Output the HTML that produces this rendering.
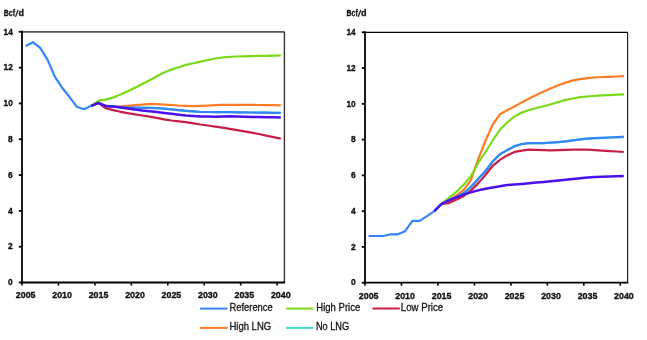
<!DOCTYPE html>
<html><head><meta charset="utf-8"><style>
html,body{margin:0;padding:0;background:#fff;width:647px;height:340px;overflow:hidden}
svg{display:block;will-change:transform}
.ax{font-family:"Liberation Sans",sans-serif;font-weight:bold;font-size:9.7px;fill:#111;stroke:#111;stroke-width:0.35px}
.ay{font-family:"Liberation Sans",sans-serif;font-weight:bold;font-size:9.6px;fill:#111;stroke:#111;stroke-width:0.35px}
.bcf{font-family:"Liberation Sans",sans-serif;font-weight:bold;font-size:9px;fill:#111;stroke:#111;stroke-width:0.3px}
.leg{font-family:"Liberation Sans",sans-serif;font-size:10.4px;fill:#111;stroke:#111;stroke-width:0.28px}
</style></head><body>
<svg width="647" height="340" viewBox="0 0 647 340">
<line x1="22.0" y1="31.8" x2="284.4" y2="31.8" stroke="#555" stroke-width="1.8"/>
<line x1="284.4" y1="31.8" x2="284.4" y2="282.5" stroke="#333" stroke-width="1.4"/>
<polyline points="25.6,46.1 32.9,42.2 40.2,47.9 47.5,59.6 54.8,76.6 62.1,87.7 69.4,96.8 76.7,106.7 84.0,109.2 91.2,105.8 98.5,102.9" fill="none" stroke="#3486f8" stroke-width="2.2" stroke-linejoin="round"/>
<polyline points="91.2,105.8 98.5,102.9 105.8,106.1 113.1,106.5 120.4,107.1 127.7,107.4 135.0,107.5 142.3,107.9 149.6,107.9 156.8,108.2 164.1,108.7 171.4,109.3 178.7,110.1 186.0,110.8 193.3,111.4 200.6,112.0 207.9,112.0 215.2,112.1 222.4,112.1 229.7,112.2 237.0,112.3 244.3,112.4 251.6,112.5 258.9,112.6 266.2,112.7 273.5,112.8 280.8,112.9" fill="none" stroke="#45d6cc" stroke-width="2.2" stroke-linejoin="round" stroke-linecap="butt"/>
<polyline points="91.2,105.8 98.5,102.9 105.8,106.1 113.1,106.5 120.4,106.4 127.7,105.8 135.0,105.2 142.3,104.6 149.6,103.8 156.8,104.2 164.1,104.6 171.4,105.0 178.7,105.5 186.0,105.8 193.3,106.1 200.6,105.9 207.9,105.6 215.2,105.2 222.4,104.9 229.7,104.8 237.0,104.8 244.3,104.9 251.6,104.9 258.9,105.0 266.2,105.1 273.5,105.2 280.8,105.3" fill="none" stroke="#fd7d26" stroke-width="2.2" stroke-linejoin="round" stroke-linecap="butt"/>
<polyline points="91.2,105.8 98.5,102.9 105.8,106.1 113.1,106.5 120.4,107.1 127.7,107.4 135.0,107.5 142.3,107.9 149.6,107.9 156.8,108.2 164.1,108.7 171.4,109.3 178.7,110.1 186.0,110.8 193.3,111.4 200.6,112.0 207.9,112.0 215.2,112.1 222.4,112.1 229.7,112.2 237.0,112.3 244.3,112.4 251.6,112.5 258.9,112.6 266.2,112.7 273.5,112.8 280.8,112.9" fill="none" stroke="#3486f8" stroke-width="2.2" stroke-linejoin="round" stroke-linecap="butt"/>
<polyline points="91.2,105.8 98.5,102.9 105.8,108.3 113.1,110.1 120.4,111.8 127.7,113.2 135.0,114.4 142.3,115.5 149.6,116.6 156.8,117.9 164.1,119.3 171.4,120.5 178.7,121.4 186.0,122.2 193.3,123.3 200.6,124.5 207.9,125.5 215.2,126.6 222.4,127.6 229.7,128.8 237.0,130.1 244.3,131.3 251.6,132.6 258.9,134.0 266.2,135.6 273.5,137.1 280.8,138.6" fill="none" stroke="#c81e45" stroke-width="2.2" stroke-linejoin="round" stroke-linecap="butt"/>
<polyline points="91.2,105.8 98.5,100.7 105.8,99.6 113.1,97.6 120.4,94.6 127.7,91.3 135.0,87.7 142.3,84.0 149.6,80.3 156.8,76.2 164.1,72.6 171.4,69.6 178.7,67.2 186.0,64.9 193.3,63.3 200.6,61.6 207.9,60.0 215.2,58.5 222.4,57.5 229.7,56.8 237.0,56.5 244.3,56.3 251.6,56.1 258.9,55.9 266.2,55.8 273.5,55.6 280.8,55.4" fill="none" stroke="#7ad918" stroke-width="2.2" stroke-linejoin="round" stroke-linecap="butt"/>
<polyline points="91.2,105.8 98.5,102.9 105.8,106.1 113.1,106.6 120.4,107.4 127.7,108.4 135.0,109.6 142.3,110.6 149.6,111.3 156.8,112.1 164.1,113.0 171.4,113.8 178.7,114.7 186.0,115.5 193.3,116.0 200.6,116.4 207.9,116.6 215.2,116.7 222.4,116.5 229.7,116.3 237.0,116.5 244.3,116.7 251.6,116.9 258.9,117.1 266.2,117.2 273.5,117.3 280.8,117.4" fill="none" stroke="#4a10ee" stroke-width="2.5" stroke-linejoin="round" stroke-linecap="butt"/>
<line x1="22.0" y1="30.8" x2="22.0" y2="283.5" stroke="#000" stroke-width="1.8"/>
<line x1="21.0" y1="282.5" x2="285.09999999999997" y2="282.5" stroke="#000" stroke-width="1.8"/>
<line x1="18.8" y1="282.50" x2="22.0" y2="282.50" stroke="#000" stroke-width="1.8"/>
<text x="8.10" y="285.20" class="ay" textLength="4.7" lengthAdjust="spacingAndGlyphs">0</text>
<line x1="18.8" y1="246.69" x2="22.0" y2="246.69" stroke="#000" stroke-width="1.8"/>
<text x="8.10" y="249.39" class="ay" textLength="4.7" lengthAdjust="spacingAndGlyphs">2</text>
<line x1="18.8" y1="210.87" x2="22.0" y2="210.87" stroke="#000" stroke-width="1.8"/>
<text x="8.10" y="213.57" class="ay" textLength="4.7" lengthAdjust="spacingAndGlyphs">4</text>
<line x1="18.8" y1="175.06" x2="22.0" y2="175.06" stroke="#000" stroke-width="1.8"/>
<text x="8.10" y="177.76" class="ay" textLength="4.7" lengthAdjust="spacingAndGlyphs">6</text>
<line x1="18.8" y1="139.24" x2="22.0" y2="139.24" stroke="#000" stroke-width="1.8"/>
<text x="8.10" y="141.94" class="ay" textLength="4.7" lengthAdjust="spacingAndGlyphs">8</text>
<line x1="18.8" y1="103.43" x2="22.0" y2="103.43" stroke="#000" stroke-width="1.8"/>
<text x="3.60" y="106.13" class="ay" textLength="9.2" lengthAdjust="spacingAndGlyphs">10</text>
<line x1="18.8" y1="67.61" x2="22.0" y2="67.61" stroke="#000" stroke-width="1.8"/>
<text x="3.60" y="70.31" class="ay" textLength="9.2" lengthAdjust="spacingAndGlyphs">12</text>
<line x1="18.8" y1="31.80" x2="22.0" y2="31.80" stroke="#000" stroke-width="1.8"/>
<text x="3.60" y="34.50" class="ay" textLength="9.2" lengthAdjust="spacingAndGlyphs">14</text>
<line x1="22.00" y1="282.5" x2="22.00" y2="285.5" stroke="#000" stroke-width="1.6"/>
<text x="15.79" y="297.9" class="ax" textLength="19.7" lengthAdjust="spacingAndGlyphs">2005</text>
<line x1="58.44" y1="282.5" x2="58.44" y2="285.5" stroke="#000" stroke-width="1.6"/>
<text x="52.24" y="297.9" class="ax" textLength="19.7" lengthAdjust="spacingAndGlyphs">2010</text>
<line x1="94.89" y1="282.5" x2="94.89" y2="285.5" stroke="#000" stroke-width="1.6"/>
<text x="88.68" y="297.9" class="ax" textLength="19.7" lengthAdjust="spacingAndGlyphs">2015</text>
<line x1="131.33" y1="282.5" x2="131.33" y2="285.5" stroke="#000" stroke-width="1.6"/>
<text x="125.13" y="297.9" class="ax" textLength="19.7" lengthAdjust="spacingAndGlyphs">2020</text>
<line x1="167.78" y1="282.5" x2="167.78" y2="285.5" stroke="#000" stroke-width="1.6"/>
<text x="161.57" y="297.9" class="ax" textLength="19.7" lengthAdjust="spacingAndGlyphs">2025</text>
<line x1="204.22" y1="282.5" x2="204.22" y2="285.5" stroke="#000" stroke-width="1.6"/>
<text x="198.02" y="297.9" class="ax" textLength="19.7" lengthAdjust="spacingAndGlyphs">2030</text>
<line x1="240.67" y1="282.5" x2="240.67" y2="285.5" stroke="#000" stroke-width="1.6"/>
<text x="234.46" y="297.9" class="ax" textLength="19.7" lengthAdjust="spacingAndGlyphs">2035</text>
<line x1="277.11" y1="282.5" x2="277.11" y2="285.5" stroke="#000" stroke-width="1.6"/>
<text x="270.91" y="297.9" class="ax" textLength="19.7" lengthAdjust="spacingAndGlyphs">2040</text>
<text x="3.8" y="15.7" class="bcf" textLength="11.3" lengthAdjust="spacingAndGlyphs">Bcf</text>
<line x1="15.50" y1="16.9" x2="18.10" y2="9.9" stroke="#111" stroke-width="1.25"/>
<text x="18.40" y="15.7" class="bcf" textLength="5.5" lengthAdjust="spacingAndGlyphs">d</text>
<line x1="365.0" y1="32.3" x2="627.6" y2="32.3" stroke="#000" stroke-width="1.3"/>
<line x1="627.6" y1="32.3" x2="627.6" y2="282.7" stroke="#222" stroke-width="1.2"/>
<polyline points="368.6,236.0 375.9,236.0 383.2,236.0 390.5,234.3 397.8,234.3 405.1,231.2 412.4,220.9 419.7,220.9 427.0,216.2 434.3,211.1 441.6,203.9" fill="none" stroke="#3486f8" stroke-width="2.2" stroke-linejoin="round"/>
<polyline points="441.6,203.9 441.6,203.9 448.9,200.3 456.2,197.1 463.5,193.3 470.8,187.0 478.1,179.1 485.4,171.0 492.7,161.5 499.9,154.2 507.2,150.1 514.5,146.3 521.8,144.0 529.1,143.2 536.4,143.2 543.7,143.2 551.0,142.7 558.3,142.1 565.6,141.4 572.9,140.3 580.2,139.4 587.5,138.6 594.8,138.2 602.1,137.8 609.4,137.5 616.7,137.1 623.8,136.8" fill="none" stroke="#45d6cc" stroke-width="2.2" stroke-linejoin="round" stroke-linecap="butt"/>
<polyline points="441.6,203.9 441.6,203.9 448.9,200.3 456.2,195.6 463.5,190.2 470.8,180.3 478.1,159.5 485.4,141.0 492.7,124.5 499.9,114.3 507.2,110.3 514.5,106.5 521.8,102.4 529.1,98.6 536.4,95.0 543.7,91.5 551.0,88.3 558.3,85.3 565.6,82.6 572.9,80.4 580.2,79.1 587.5,78.2 594.8,77.5 602.1,77.0 609.4,76.8 616.7,76.5 624.0,76.2" fill="none" stroke="#fd7d26" stroke-width="2.2" stroke-linejoin="round" stroke-linecap="butt"/>
<polyline points="441.6,203.9 441.6,203.9 448.9,200.3 456.2,197.1 463.5,193.3 470.8,187.0 478.1,179.1 485.4,171.0 492.7,161.5 499.9,154.2 507.2,150.1 514.5,146.3 521.8,144.0 529.1,143.2 536.4,143.2 543.7,143.2 551.0,142.7 558.3,142.1 565.6,141.4 572.9,140.3 580.2,139.4 587.5,138.6 594.8,138.2 602.1,137.8 609.4,137.5 616.7,137.1 623.8,136.8" fill="none" stroke="#3486f8" stroke-width="2.2" stroke-linejoin="round" stroke-linecap="butt"/>
<polyline points="441.6,203.9 441.6,203.9 448.9,203.1 456.2,199.8 463.5,196.2 470.8,190.6 478.1,183.4 485.4,175.0 492.7,165.8 499.9,159.9 507.2,155.4 514.5,151.9 521.8,150.6 529.1,149.7 536.4,149.9 543.7,150.1 551.0,150.3 558.3,150.1 565.6,149.8 572.9,149.7 580.2,149.7 587.5,149.7 594.8,150.1 602.1,150.6 609.4,151.1 616.7,151.5 623.8,152.0" fill="none" stroke="#c81e45" stroke-width="2.2" stroke-linejoin="round" stroke-linecap="butt"/>
<polyline points="441.6,203.9 441.6,203.9 448.9,197.9 456.2,192.0 463.5,185.0 470.8,176.4 478.1,163.2 485.4,152.0 492.7,140.5 499.9,129.6 507.2,122.5 514.5,116.4 521.8,112.6 529.1,110.0 536.4,108.0 543.7,106.2 551.0,104.3 558.3,102.0 565.6,99.9 572.9,98.5 580.2,97.2 587.5,96.5 594.8,95.9 602.1,95.4 609.4,95.1 616.7,94.7 624.0,94.4" fill="none" stroke="#7ad918" stroke-width="2.2" stroke-linejoin="round" stroke-linecap="butt"/>
<polyline points="434.3,211.1 441.6,203.9 448.9,200.3 456.2,197.3 463.5,194.6 470.8,192.4 478.1,190.4 485.4,188.8 492.7,187.5 499.9,186.2 507.2,185.1 514.5,184.5 521.8,183.9 529.1,183.3 536.4,182.6 543.7,181.9 551.0,181.2 558.3,180.5 565.6,179.7 572.9,179.0 580.2,178.3 587.5,177.5 594.8,177.1 602.1,176.8 609.4,176.5 616.7,176.2 623.8,175.9" fill="none" stroke="#4a10ee" stroke-width="2.5" stroke-linejoin="round" stroke-linecap="butt"/>
<line x1="365.0" y1="31.299999999999997" x2="365.0" y2="283.7" stroke="#000" stroke-width="1.8"/>
<line x1="364.0" y1="282.7" x2="628.3000000000001" y2="282.7" stroke="#000" stroke-width="1.8"/>
<line x1="361.8" y1="282.70" x2="365.0" y2="282.70" stroke="#000" stroke-width="1.8"/>
<text x="350.90" y="285.40" class="ay" textLength="4.7" lengthAdjust="spacingAndGlyphs">0</text>
<line x1="361.8" y1="246.93" x2="365.0" y2="246.93" stroke="#000" stroke-width="1.8"/>
<text x="350.90" y="249.63" class="ay" textLength="4.7" lengthAdjust="spacingAndGlyphs">2</text>
<line x1="361.8" y1="211.16" x2="365.0" y2="211.16" stroke="#000" stroke-width="1.8"/>
<text x="350.90" y="213.86" class="ay" textLength="4.7" lengthAdjust="spacingAndGlyphs">4</text>
<line x1="361.8" y1="175.39" x2="365.0" y2="175.39" stroke="#000" stroke-width="1.8"/>
<text x="350.90" y="178.09" class="ay" textLength="4.7" lengthAdjust="spacingAndGlyphs">6</text>
<line x1="361.8" y1="139.61" x2="365.0" y2="139.61" stroke="#000" stroke-width="1.8"/>
<text x="350.90" y="142.31" class="ay" textLength="4.7" lengthAdjust="spacingAndGlyphs">8</text>
<line x1="361.8" y1="103.84" x2="365.0" y2="103.84" stroke="#000" stroke-width="1.8"/>
<text x="346.40" y="106.54" class="ay" textLength="9.2" lengthAdjust="spacingAndGlyphs">10</text>
<line x1="361.8" y1="68.07" x2="365.0" y2="68.07" stroke="#000" stroke-width="1.8"/>
<text x="346.40" y="70.77" class="ay" textLength="9.2" lengthAdjust="spacingAndGlyphs">12</text>
<line x1="361.8" y1="32.30" x2="365.0" y2="32.30" stroke="#000" stroke-width="1.8"/>
<text x="346.40" y="35.00" class="ay" textLength="9.2" lengthAdjust="spacingAndGlyphs">14</text>
<line x1="365.00" y1="282.7" x2="365.00" y2="285.7" stroke="#000" stroke-width="1.6"/>
<text x="358.80" y="298.9" class="ax" textLength="19.7" lengthAdjust="spacingAndGlyphs">2005</text>
<line x1="401.47" y1="282.7" x2="401.47" y2="285.7" stroke="#000" stroke-width="1.6"/>
<text x="395.27" y="298.9" class="ax" textLength="19.7" lengthAdjust="spacingAndGlyphs">2010</text>
<line x1="437.94" y1="282.7" x2="437.94" y2="285.7" stroke="#000" stroke-width="1.6"/>
<text x="431.74" y="298.9" class="ax" textLength="19.7" lengthAdjust="spacingAndGlyphs">2015</text>
<line x1="474.42" y1="282.7" x2="474.42" y2="285.7" stroke="#000" stroke-width="1.6"/>
<text x="468.21" y="298.9" class="ax" textLength="19.7" lengthAdjust="spacingAndGlyphs">2020</text>
<line x1="510.89" y1="282.7" x2="510.89" y2="285.7" stroke="#000" stroke-width="1.6"/>
<text x="504.69" y="298.9" class="ax" textLength="19.7" lengthAdjust="spacingAndGlyphs">2025</text>
<line x1="547.36" y1="282.7" x2="547.36" y2="285.7" stroke="#000" stroke-width="1.6"/>
<text x="541.16" y="298.9" class="ax" textLength="19.7" lengthAdjust="spacingAndGlyphs">2030</text>
<line x1="583.83" y1="282.7" x2="583.83" y2="285.7" stroke="#000" stroke-width="1.6"/>
<text x="577.63" y="298.9" class="ax" textLength="19.7" lengthAdjust="spacingAndGlyphs">2035</text>
<line x1="620.31" y1="282.7" x2="620.31" y2="285.7" stroke="#000" stroke-width="1.6"/>
<text x="614.10" y="298.9" class="ax" textLength="19.7" lengthAdjust="spacingAndGlyphs">2040</text>
<text x="346.5" y="15.7" class="bcf" textLength="11.3" lengthAdjust="spacingAndGlyphs">Bcf</text>
<line x1="358.20" y1="16.9" x2="360.80" y2="9.9" stroke="#111" stroke-width="1.25"/>
<text x="361.10" y="15.7" class="bcf" textLength="5.5" lengthAdjust="spacingAndGlyphs">d</text>
<line x1="200" y1="308.6" x2="227.6" y2="308.6" stroke="#3486f8" stroke-width="2.0"/>
<text x="229.5" y="310.9" class="leg" textLength="43.2" lengthAdjust="spacingAndGlyphs">Reference</text>
<line x1="286.2" y1="308.6" x2="313.2" y2="308.6" stroke="#7ad918" stroke-width="2.0"/>
<text x="316.3" y="310.9" class="leg" textLength="44.0" lengthAdjust="spacingAndGlyphs">High Price</text>
<line x1="372.4" y1="308.5" x2="399.8" y2="308.5" stroke="#c81e45" stroke-width="2.0"/>
<text x="400.8" y="310.8" class="leg" textLength="42.4" lengthAdjust="spacingAndGlyphs">Low Price</text>
<line x1="200" y1="327.9" x2="227.6" y2="327.9" stroke="#fd7d26" stroke-width="2.0"/>
<text x="229.5" y="330.2" class="leg" textLength="41.6" lengthAdjust="spacingAndGlyphs">High LNG</text>
<line x1="286.2" y1="327.9" x2="313.2" y2="327.9" stroke="#45d6cc" stroke-width="2.0"/>
<text x="315.9" y="330.2" class="leg" textLength="33.3" lengthAdjust="spacingAndGlyphs">No LNG</text>
</svg>
</body></html>
